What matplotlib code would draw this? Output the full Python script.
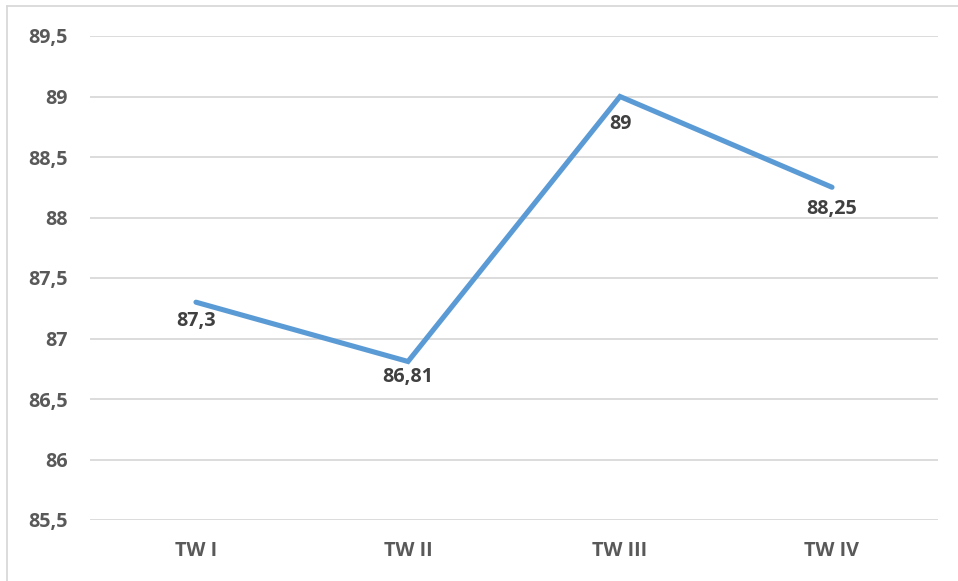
import matplotlib
matplotlib.use("Agg")
import matplotlib.pyplot as plt
from matplotlib.lines import Line2D
from matplotlib.ticker import FuncFormatter, MultipleLocator

# ── data ──────────────────────────────────────────────────────────────────────
quarters = ["TW I", "TW II", "TW III", "TW IV"]
scores = [87.3, 86.81, 89, 88.25]
score_labels = ["87,3", "86,81", "89", "88,25"]

# label drop below each point, in pixels
label_gap = [10, 7, 19, 13]

LINE_COLOR = "#5B9BD5"
GRID_COLOR = "#D9D9D9"
AXIS_TEXT = "#595959"
LABEL_TEXT = "#404040"

plt.rcParams["font.family"] = ["Open Sans", "DejaVu Sans"]
FS = 14.2

fig = plt.figure(figsize=(9.58, 5.81), dpi=100)
ax = fig.add_axes([90 / 958, 1 - 520 / 581, 848 / 958, 484 / 581])

x = list(range(len(quarters)))
ax.plot(x, scores, color=LINE_COLOR, linewidth=3.7, solid_capstyle="round",
        solid_joinstyle="miter", zorder=3)

for xi, yi, txt, gap in zip(x, scores, score_labels, label_gap):
    ax.annotate(txt, (xi, yi), xytext=(0, -gap * 0.72 + 1), textcoords="offset points",
                ha="center", va="top", fontsize=FS, fontweight="bold",
                color=LABEL_TEXT, zorder=4)

ax.set_xlim(-0.5, len(quarters) - 0.5)
ax.set_ylim(85.5, 89.5)
ax.yaxis.set_major_locator(MultipleLocator(0.5))
ax.yaxis.set_major_formatter(FuncFormatter(lambda v, _: f"{v:g}".replace(".", ",")))
ax.set_xticks(x)
ax.set_xticklabels(quarters)

ax.grid(axis="y", color=GRID_COLOR, linewidth=1.3, zorder=0)
ax.set_axisbelow(True)
for s in ax.spines.values():
    s.set_visible(False)
ax.tick_params(axis="both", length=0, labelsize=FS, labelcolor=AXIS_TEXT)
ax.tick_params(axis="y", pad=16)
ax.tick_params(axis="x", pad=15)
for t in ax.get_xticklabels() + ax.get_yticklabels():
    t.set_fontweight("bold")

# chart frame (top and left edges)
fw, fh = 958, 581
fig.add_artist(Line2D([7 / fw, 7 / fw], [0, 1 - 6 / fh], color=GRID_COLOR, linewidth=1.3))
fig.add_artist(Line2D([7 / fw, 1], [1 - 6 / fh, 1 - 6 / fh], color=GRID_COLOR, linewidth=1.3))

fig.savefig("out.png", dpi=100, facecolor="white")
